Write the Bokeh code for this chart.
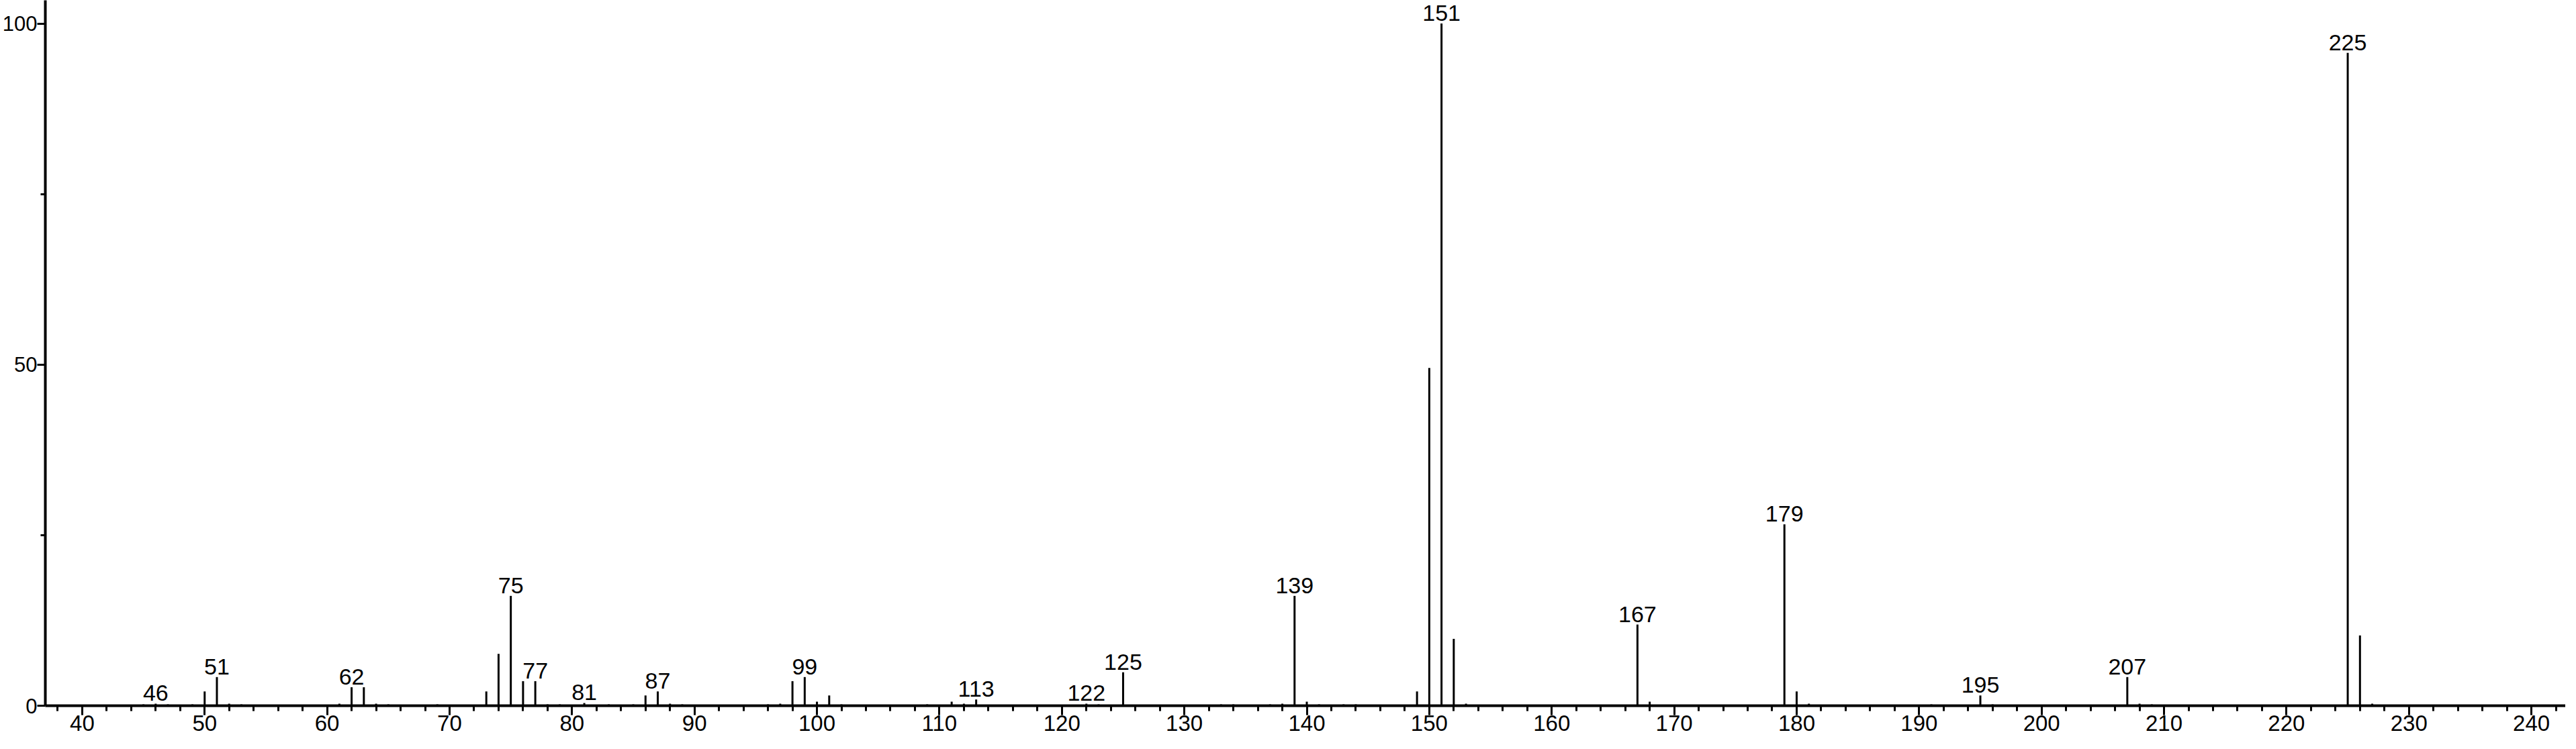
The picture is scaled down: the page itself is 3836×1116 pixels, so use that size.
from bokeh.plotting import figure
from bokeh.models import ColumnDataSource, LabelSet, Range1d, SingleIntervalTicker, FixedTicker
from bokeh.core.properties import value
from bokeh.embed import file_html
from bokeh.resources import INLINE

# m/z values and relative intensities (%)
mz = [45, 46, 47, 49, 50, 51, 52, 53, 61, 62, 63, 64, 65, 69,
      73, 74, 75, 76, 77, 78, 79, 81, 83, 85, 86, 87, 88, 89,
      96, 97, 98, 99, 100, 101, 102, 109, 111, 112, 113, 122, 123, 125,
      133, 134, 137, 138, 139, 140, 141, 143, 144, 149, 150, 151, 152, 153,
      167, 168, 179, 180, 181, 191, 195, 196, 207, 208, 209, 225, 226, 227]
intensity = [0.2, 0.3, 0.2, 0.2, 2.1, 4.2, 0.3, 0.2, 0.3, 2.7, 2.7, 0.3, 0.2, 0.2,
             2.1, 7.6, 16.1, 3.6, 3.6, 0.2, 0.2, 0.4, 0.2, 0.2, 1.5, 2.1, 0.3, 0.2,
             0.2, 0.3, 3.6, 4.2, 0.6, 1.5, 0.2, 0.2, 0.6, 0.3, 0.9, 0.3, 0.2, 4.9,
             0.2, 0.2, 0.2, 0.3, 16.1, 0.6, 0.2, 0.2, 0.2, 2.1, 49.5, 100.0, 9.8, 0.3,
             11.9, 0.6, 26.6, 2.1, 0.3, 0.2, 1.5, 0.2, 4.2, 0.3, 0.2, 95.7, 10.3, 0.3]

# peaks carrying an m/z annotation
labeled_mz = [46, 51, 62, 75, 77, 81, 87, 99, 113, 122, 125, 139, 151, 167, 179, 195, 207, 225]

# axis ticks
x_major_interval = 10
y_ticks = [0, 50, 100]
y_minor_ticks = [25, 75]

FONT = "Liberation Sans"

lookup = dict(zip(mz, intensity))
peak_src = ColumnDataSource(dict(x=mz, y0=[0] * len(mz), y1=intensity))
lab_src = ColumnDataSource(dict(x=labeled_mz,
                                y=[lookup[m] for m in labeled_mz],
                                text=[str(m) for m in labeled_mz]))

p = figure(width=3820, height=1100, output_backend="svg", toolbar_location=None,
           x_range=Range1d(36.99, 242.79), y_range=Range1d(0, 103.4),
           min_border_left=64, min_border_right=0, min_border_top=0, min_border_bottom=49)

p.segment(x0="x", y0="y0", x1="x", y1="y1", source=peak_src,
          line_color="black", line_width=3)

labels = LabelSet(x="x", y="y", text="text", source=lab_src,
                  text_align="center", text_baseline="alphabetic", y_offset=4,
                  text_font=value(FONT), text_font_size=value("34px"), text_color="black")
p.add_layout(labels)

p.grid.visible = False
p.outline_line_color = None
p.background_fill_color = "white"
p.border_fill_color = "white"

xa = p.xaxis[0]
xa.ticker = SingleIntervalTicker(interval=x_major_interval, num_minor_ticks=5)
xa.axis_line_width = 4
xa.axis_line_color = "black"
xa.major_tick_line_width = 3
xa.major_tick_out = 14
xa.major_tick_in = 0
xa.minor_tick_line_width = 3
xa.minor_tick_out = 8
xa.minor_tick_in = 0
xa.major_label_standoff = 0
xa.major_label_text_font = "Arial"
xa.major_label_text_font_size = "33px"
xa.major_label_text_color = "black"

ya = p.yaxis[0]
ya.ticker = FixedTicker(ticks=y_ticks, minor_ticks=y_minor_ticks)
ya.axis_line_width = 4
ya.axis_line_color = "black"
ya.major_tick_line_width = 3
ya.major_tick_out = 12
ya.major_tick_in = 0
ya.minor_tick_line_width = 3
ya.minor_tick_out = 7
ya.minor_tick_in = 0
ya.major_label_standoff = 0
ya.major_label_text_font = "Arial"
ya.major_label_text_font_size = "31px"
ya.major_label_text_color = "black"

open("out.html", "w").write(file_html(p, INLINE))
